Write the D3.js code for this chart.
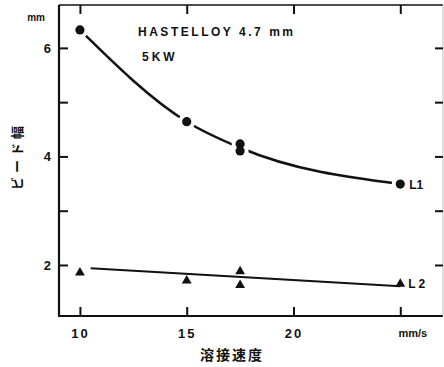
<!DOCTYPE html>
<html>
<head>
<meta charset="utf-8">
<script src="https://cdn.jsdelivr.net/npm/d3@7"></script>
<style>
	body { margin:0; background:#fff; }
	svg { display:block; font-family:"Liberation Sans", Arial, sans-serif; font-weight:bold; }
</style>
</head>
<body>
<div id="chart"></div>
<script>
var WIDTH = 444;
var HEIGHT = 367;
var INK = "#111";

// welding speed (mm/s) and bead width (mm)
var L1_SPEED = [10, 15, 17.5, 17.5, 25];
var L1_WIDTH = [6.33, 4.64, 4.23, 4.10, 3.49];
var L1_FIT_SPEED = [10, 15, 17.5, 25];
var L1_FIT_WIDTH = [6.33, 4.64, 4.16, 3.49];

var L2_SPEED = [10, 15, 17.5, 17.5, 25];
var L2_WIDTH = [1.86, 1.71, 1.88, 1.63, 1.65];
var L2_FIT_SPEED = [10.5, 25];
var L2_FIT_WIDTH = [1.94, 1.61];

var X_TICKS = [10, 15, 20, 25];
var X_TICK_LABELS = ["10", "15", "20", "mm/s"];
var Y_TICKS = [2, 3, 4, 5, 6];
var Y_TICK_LABELS = {2:"2", 4:"4", 6:"6"};

var svg = d3.select('#chart').append('svg')
		.attr('width', WIDTH).attr('height', HEIGHT);

var x = d3.scaleLinear().domain([9.02, 27]).range([59, 443]);
var y = d3.scaleLinear().domain([1.06, 6.79]).range([316, 5]);

// frame
var frame = svg.append('g').attr('stroke', INK).attr('fill', 'none');
frame.append('line').attr('x1', 59).attr('x2', 59).attr('y1', 5).attr('y2', 316).attr('stroke-width', 2.2);
frame.append('line').attr('x1', 58).attr('x2', 443).attr('y1', 316).attr('y2', 316).attr('stroke-width', 2.2);
frame.append('line').attr('x1', 59).attr('x2', 443).attr('y1', 5).attr('y2', 5).attr('stroke-width', 1.6);
frame.append('line').attr('x1', 443).attr('x2', 443).attr('y1', 5).attr('y2', 316)
	.attr('stroke-width', 1).attr('stroke', '#bbb');

// axes, ticks pointing inward on all four sides
var axisB = svg.append('g').attr('transform', 'translate(0,316)')
	.call(d3.axisBottom(x).tickValues(X_TICKS).tickSize(-9).tickPadding(13)
		.tickFormat(function(d, i){ return X_TICK_LABELS[i]; }));
var axisT = svg.append('g').attr('transform', 'translate(0,5)')
	.call(d3.axisTop(x).tickValues(X_TICKS).tickSize(-9).tickFormat(""));
var axisL = svg.append('g').attr('transform', 'translate(59,0)')
	.call(d3.axisLeft(y).tickValues(Y_TICKS).tickSize(-9).tickPadding(8)
		.tickFormat(function(d){ return Y_TICK_LABELS[d] || ""; }));
var axisR = svg.append('g').attr('transform', 'translate(443,0)')
	.call(d3.axisRight(y).tickValues(Y_TICKS).tickSize(-8).tickFormat(""));

[axisB, axisT, axisL, axisR].forEach(function(a) {
	a.selectAll('path').remove();
	a.selectAll('.tick line').attr('stroke', INK).attr('stroke-width', 2);
	a.selectAll('text').attr('fill', INK).attr('font-size', 13).attr('font-weight', 'bold')
		.attr('font-family', '"Liberation Sans", Arial, sans-serif');
});
axisB.selectAll('text').attr('letter-spacing', 2);
axisB.selectAll('.tick').filter(function(d){ return d == 25; }).select('text')
	.attr('font-size', 11).attr('letter-spacing', 0).attr('dx', 12);

svg.append('text').attr('x', 45).attr('y', 21).attr('text-anchor', 'end')
	.attr('font-size', 10).attr('fill', INK).text('mm');

// axis titles
svg.append('text').attr('transform', 'translate(22,156) rotate(-90)')
	.attr('text-anchor', 'middle').attr('font-size', 13).attr('letter-spacing', 4)
	.attr('fill', INK).attr('font-family', '"Noto Sans CJK JP", sans-serif').text('ビード幅');
svg.append('text').attr('x', 232).attr('y', 360).attr('text-anchor', 'middle')
	.attr('font-size', 14).attr('letter-spacing', 2).attr('fill', INK)
	.attr('font-family', '"Noto Sans CJK JP", sans-serif').text('溶接速度');

// annotation
svg.append('text').attr('x', 138).attr('y', 36).attr('font-size', 12)
	.attr('textLength', 155).attr('lengthAdjust', 'spacing').attr('fill', INK).text('HASTELLOY 4.7 mm');
svg.append('text').attr('x', 142).attr('y', 61).attr('font-size', 12)
	.attr('letter-spacing', 3).attr('fill', INK).text('5KW');

// fitted curves
var line = d3.line().x(function(d){ return x(d[0]); }).y(function(d){ return y(d[1]); });
svg.append('path').datum(d3.zip(L1_FIT_SPEED, L1_FIT_WIDTH))
	.attr('d', line.curve(d3.curveMonotoneX)).attr('fill', 'none')
	.attr('stroke', INK).attr('stroke-width', 2.5);
svg.append('path').datum(d3.zip(L2_FIT_SPEED, L2_FIT_WIDTH))
	.attr('d', line.curve(d3.curveLinear)).attr('fill', 'none')
	.attr('stroke', INK).attr('stroke-width', 2);

// white halos first (they open the gaps in the curve), then the markers
var l1Points = d3.zip(L1_SPEED, L1_WIDTH);
svg.append('g').selectAll('circle').data(l1Points).join('circle')
	.attr('cx', function(d){ return x(d[0]); }).attr('cy', function(d){ return y(d[1]); })
	.attr('r', 8.5).attr('fill', '#fff');
svg.append('g').selectAll('circle').data(l1Points).join('circle')
	.attr('cx', function(d){ return x(d[0]); }).attr('cy', function(d){ return y(d[1]); })
	.attr('r', 4.6).attr('fill', INK);
var tri = d3.symbol().type(d3.symbolTriangle).size(42);
svg.append('g').selectAll('path').data(d3.zip(L2_SPEED, L2_WIDTH)).join('path')
	.attr('transform', function(d){ return 'translate(' + x(d[0]) + ',' + y(d[1]) + ')'; })
	.attr('d', tri).attr('fill', INK);

// series labels
svg.append('text').attr('x', x(25) + 9).attr('y', y(L1_WIDTH[4]) + 4.5)
	.attr('font-size', 12).attr('fill', INK).text('L1');
svg.append('text').attr('x', x(25) + 8).attr('y', y(L2_WIDTH[4]) + 4.5)
	.attr('font-size', 12).attr('letter-spacing', 3).attr('fill', INK).text('L2');
</script>
</body>
</html>
